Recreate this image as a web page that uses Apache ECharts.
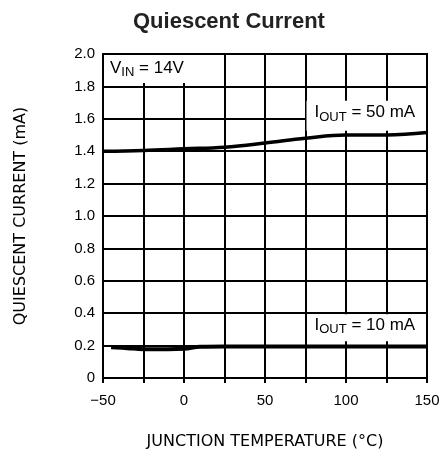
<!DOCTYPE html>
<html><head><meta charset="utf-8">
<script src="https://cdn.jsdelivr.net/npm/echarts@6/dist/echarts.min.js"></script>
<style>html,body{margin:0;padding:0;background:#fff}#c{width:442px;height:450px}</style>
</head><body><div id="c"></div>
<script>
const titleText = 'Quiescent Current';
const xName = 'JUNCTION TEMPERATURE (°C)';
const yName = 'QUIESCENT CURRENT (mA)';
const temps50 = [-50, -25, 0, 25, 50, 75, 100, 125, 150];
const iq50 = [1.40, 1.405, 1.415, 1.425, 1.45, 1.48, 1.50, 1.50, 1.515];
const temps10 = [-45, -35, -25, -10, 0, 10, 25, 50, 75, 100, 125, 150];
const iq10 = [0.19, 0.184, 0.178, 0.177, 0.18, 0.193, 0.195, 0.195, 0.195, 0.195, 0.195, 0.195];
const xTickLabels = ['\u221250', '0', '50', '100', '150'];

const chart = echarts.init(document.getElementById('c'), null, {renderer: 'canvas'});
const F = 'Liberation Sans, Arial, sans-serif';
const NF = 'DejaVu Sans, ' + F;
const option = {
  animation: false,
  backgroundColor: '#fff',
  title: {text: titleText, left: 128, top: 6,
    textStyle: {fontFamily: F, fontWeight: 'bold', fontSize: 22, color: '#222'}},
  grid: {left: 103, right: 15, top: 54, bottom: 72, outerBoundsMode: 'none', containLabel: false,
    show: true, borderColor: '#000', borderWidth: 2, backgroundColor: 'transparent'},
  xAxis: {type: 'value', min: -50, max: 150, interval: 25,
    name: xName, nameLocation: 'middle', nameGap: 56,
    nameTextStyle: {fontFamily: NF, fontSize: 16, color: '#000'},
    axisLine: {show: true, lineStyle: {color: '#000', width: 2}},
    axisTick: {show: true, length: 5, lineStyle: {color: '#000', width: 2}},
    axisLabel: {margin: 15, fontFamily: F, fontSize: 15, color: '#000',
      formatter: v => (v % 50 === 0 ? xTickLabels[(v + 50) / 50] : '')},
    splitLine: {show: true, lineStyle: {color: '#000', width: 2}}},
  yAxis: {type: 'value', min: 0, max: 2.0, interval: 0.2,
    name: yName, nameLocation: 'middle', nameGap: 74, nameRotate: 90,
    nameTextStyle: {fontFamily: NF, fontSize: 16, color: '#000'},
    axisLine: {show: true, lineStyle: {color: '#000', width: 2}},
    axisTick: {show: true, length: 5, lineStyle: {color: '#000', width: 2}},
    axisLabel: {margin: 8, fontFamily: F, fontSize: 15, color: '#000',
      formatter: v => (Math.abs(v) < 1e-9 ? '0' : v.toFixed(1))},
    splitLine: {show: true, lineStyle: {color: '#000', width: 2}}},
  series: [
    {type: 'line', name: 'IOUT = 50 mA', data: temps50.map((t, i) => [t, iq50[i]]), smooth: 0.4,
      showSymbol: false, lineStyle: {color: '#000', width: 3.5}, z: 5},
    {type: 'line', name: 'IOUT = 10 mA', data: temps10.map((t, i) => [t, iq10[i]]), smooth: 0.4,
      showSymbol: false, lineStyle: {color: '#000', width: 4}, z: 5}
  ]
};
chart.setOption(option);

function px(x, y) { return chart.convertToPixel({gridIndex: 0}, [x, y]); }
const rich = {
  sub: {fontFamily: F, fontSize: 13, color: '#000', verticalAlign: 'bottom', padding: [9, 0, 0, 0]}
};
const p1 = px(-50, 2.0);
const p2 = px(75, 1.6);
const p3 = px(75, 0.4);
const pr = px(150, 2.0);
chart.setOption({graphic: [
  {type: 'rect', shape: {x: p1[0] + 1, y: p1[1] + 1, width: 87, height: 28}, style: {fill: '#fff'}, z: 1},
  {type: 'text', x: p1[0] + 7, y: p1[1] + 3, z: 2,
    style: {text: 'V{sub|IN} = 14V', rich: rich, fontFamily: F, fontSize: 17, fill: '#000'}},
  {type: 'rect', shape: {x: p2[0] + 1, y: p2[1] - 18, width: pr[0] - p2[0] - 2, height: 30}, style: {fill: '#fff'}, z: 1},
  {type: 'text', x: p2[0] + 9, y: p2[1] - 17, z: 2,
    style: {text: 'I{sub|OUT} = 50 mA', rich: rich, fontFamily: F, fontSize: 17, fill: '#000'}},
  {type: 'rect', shape: {x: p3[0] + 5, y: p3[1] + 1, width: pr[0] - p3[0] - 6, height: 27}, style: {fill: '#fff'}, z: 1},
  {type: 'text', x: p3[0] + 9, y: p3[1] + 1, z: 2,
    style: {text: 'I{sub|OUT} = 10 mA', rich: rich, fontFamily: F, fontSize: 17, fill: '#000'}}
]});
</script></body></html>
